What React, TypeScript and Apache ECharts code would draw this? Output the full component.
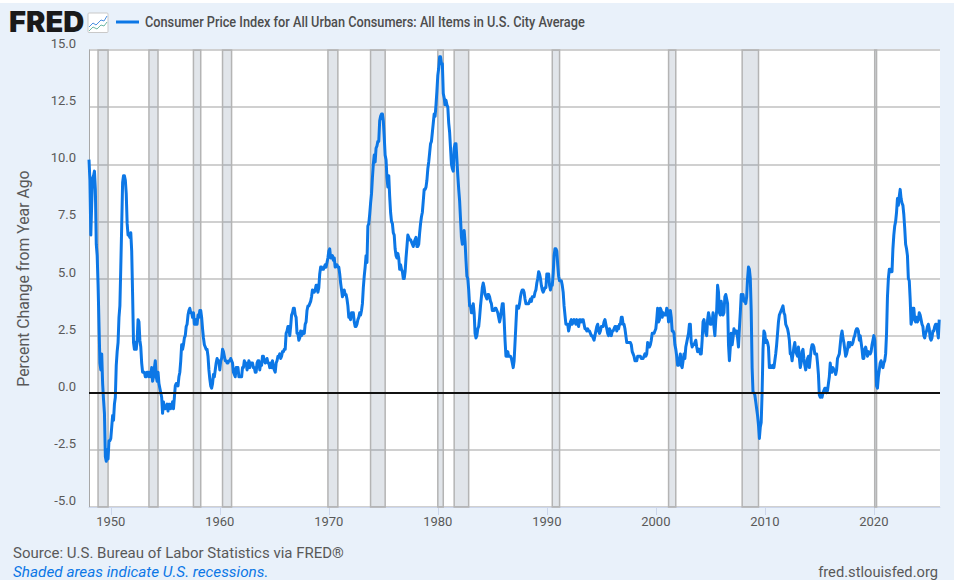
import React, { useEffect, useRef } from "react";
import * as echarts from "echarts";

const seriesName = "Consumer Price Index for All Urban Consumers: All Items in U.S. City Average";
const firstYear = 1948;

// Percent change from year ago, one value per month from January 1948.
const cpi1940s = [
  10.2, 9.3, 6.9, 8.3, 9.4, 9.5, 9.7, 8.9, 6.5, 6.0, 4.7, 3.0,
  1.3, 1.0, 1.7, 0.4, -0.3, -0.9, -2.8, -3.0, -2.5, -2.9, -2.1, -2.1,
];
const cpi1950s = [
  -2.0, -1.5, -1.0, -1.2, -0.5, -0.2, 1.2, 1.8, 2.2, 3.3, 3.8, 5.5,
  7.3, 9.2, 9.5, 9.5, 9.3, 8.7, 7.4, 6.9, 6.9, 6.8, 7.0, 6.2,
  4.3, 2.2, 1.9, 2.2, 1.9, 2.3, 3.2, 3.1, 2.3, 2.0, 1.3, 0.9,
  0.9, 0.9, 0.7, 0.7, 0.9, 0.9, 0.7, 0.9, 0.7, 1.1, 0.5, 0.7,
  1.1, 1.4, 0.7, 0.5, 0.9, 0.4, 0.2, 0.0, -0.2, -0.9, -0.4, -0.7,
  -0.7, -0.6, -0.5, -0.8, -0.5, -0.5, -0.7, -0.6, -0.4, -0.7, -0.2, 0.3,
  0.4, 0.4, 0.3, 0.7, 0.9, 1.4, 2.1, 1.9, 2.1, 2.4, 2.5, 2.9,
  3.0, 3.4, 3.6, 3.7, 3.5, 3.5, 3.3, 3.5, 3.0, 3.0, 3.2, 3.0,
  3.4, 3.3, 3.6, 3.6, 3.3, 2.8, 2.4, 2.1, 2.0, 1.9, 1.9, 1.6,
  1.0, 0.6, 0.3, 0.2, 0.4, 0.8, 0.7, 1.0, 1.3, 1.5, 1.4, 1.4,
];
const cpi1960s = [
  1.0, 1.4, 1.5, 1.9, 1.8, 1.6, 1.4, 1.4, 1.3, 1.3, 1.4, 1.4,
  1.5, 1.4, 1.3, 0.9, 0.8, 0.7, 1.1, 1.1, 1.1, 0.7, 0.7, 0.7,
  0.7, 1.1, 1.1, 1.4, 1.3, 1.3, 1.0, 1.2, 1.4, 1.1, 1.3, 1.3,
  1.3, 1.1, 1.1, 0.9, 0.9, 1.3, 1.4, 1.4, 1.0, 1.3, 1.2, 1.6,
  1.6, 1.4, 1.3, 1.4, 1.5, 1.3, 1.3, 1.1, 1.3, 1.1, 1.4, 1.1,
  1.0, 0.9, 1.3, 1.4, 1.6, 1.6, 1.7, 1.5, 1.6, 1.8, 1.8, 1.9,
  1.9, 2.6, 2.7, 2.9, 2.9, 2.5, 2.9, 3.4, 3.5, 3.7, 3.7, 3.4,
  3.3, 2.6, 2.6, 2.3, 2.4, 2.7, 2.5, 2.6, 2.7, 2.6, 3.0, 3.1,
  3.6, 3.8, 3.8, 3.9, 4.0, 4.2, 4.5, 4.4, 4.4, 4.5, 4.7, 4.7,
  4.4, 4.6, 5.2, 5.5, 5.5, 5.4, 5.4, 5.5, 5.6, 5.5, 5.7, 5.9,
];
const cpi1970s = [
  6.2, 6.3, 5.9, 5.9, 6.0, 5.8, 5.9, 5.5, 5.6, 5.6, 5.5, 5.5,
  5.2, 4.8, 4.5, 4.2, 4.3, 4.5, 4.3, 4.3, 4.1, 3.8, 3.3, 3.3,
  3.2, 3.5, 3.5, 3.5, 3.1, 2.9, 2.9, 3.0, 3.2, 3.3, 3.5, 3.4,
  3.6, 3.9, 4.6, 5.1, 5.5, 6.0, 5.7, 7.3, 7.4, 7.8, 8.3, 8.7,
  9.4, 10.0, 10.4, 10.1, 10.7, 10.8, 11.0, 11.0, 11.9, 12.1, 12.2, 12.2,
  11.9, 11.2, 10.4, 10.2, 9.4, 9.0, 9.5, 8.6, 7.9, 7.5, 7.4, 7.0,
  6.9, 6.3, 6.0, 5.9, 6.1, 5.9, 5.4, 5.6, 5.4, 5.3, 5.0, 5.0,
  5.3, 5.9, 6.4, 6.9, 6.8, 6.7, 6.7, 6.6, 6.5, 6.4, 6.6, 6.7,
  6.8, 6.4, 6.4, 6.5, 7.0, 7.4, 7.7, 7.9, 8.4, 8.9, 8.9, 9.0,
  9.3, 9.8, 10.1, 10.5, 10.9, 11.0, 11.4, 11.8, 12.2, 12.1, 12.6, 13.2,
];
const cpi1980s = [
  13.9, 14.2, 14.7, 14.7, 14.4, 14.4, 13.1, 12.9, 12.6, 12.8, 12.6, 12.5,
  11.8, 11.4, 10.7, 10.0, 9.8, 9.7, 10.7, 10.9, 10.9, 10.2, 9.5, 8.9,
  8.4, 7.6, 6.8, 6.5, 6.7, 7.1, 6.6, 5.8, 5.1, 5.0, 4.5, 3.8,
  3.8, 3.5, 3.5, 3.9, 3.5, 2.6, 2.4, 2.5, 2.8, 2.9, 3.3, 3.8,
  4.2, 4.6, 4.8, 4.6, 4.3, 4.2, 4.1, 4.3, 4.3, 4.2, 4.0, 3.9,
  3.6, 3.6, 3.6, 3.7, 3.7, 3.6, 3.5, 3.3, 3.1, 3.3, 3.6, 3.9,
  3.9, 3.2, 2.3, 1.6, 1.6, 1.8, 1.6, 1.6, 1.6, 1.5, 1.3, 1.1,
  1.4, 2.2, 3.0, 3.8, 3.7, 3.7, 3.9, 4.2, 4.4, 4.5, 4.5, 4.4,
  4.1, 3.9, 3.9, 3.9, 3.9, 4.0, 4.1, 4.0, 4.2, 4.2, 4.2, 4.4,
  4.5, 4.8, 5.0, 5.3, 5.2, 5.0, 4.7, 4.5, 4.4, 4.5, 4.6, 4.6,
];
const cpi1990s = [
  5.2, 5.2, 5.2, 4.7, 4.5, 4.7, 4.7, 5.2, 6.0, 6.3, 6.3, 6.2,
  5.6, 5.1, 4.9, 4.9, 4.9, 4.7, 4.4, 3.8, 3.4, 3.0, 3.0, 3.0,
  2.7, 2.9, 3.1, 3.2, 3.0, 3.1, 3.2, 3.1, 3.0, 3.2, 3.0, 2.9,
  3.2, 3.2, 3.1, 3.2, 3.2, 3.0, 2.8, 2.8, 2.7, 2.8, 2.7, 2.7,
  2.6, 2.5, 2.5, 2.4, 2.3, 2.5, 2.7, 2.9, 3.0, 2.7, 2.6, 2.7,
  2.9, 2.9, 2.9, 3.1, 3.2, 3.0, 2.8, 2.6, 2.5, 2.8, 2.7, 2.5,
  2.7, 2.7, 2.8, 2.9, 2.9, 2.7, 2.9, 2.8, 3.0, 3.0, 3.3, 3.3,
  3.0, 3.0, 2.8, 2.5, 2.2, 2.2, 2.2, 2.2, 2.2, 2.1, 1.8, 1.7,
  1.6, 1.4, 1.4, 1.4, 1.6, 1.6, 1.6, 1.6, 1.5, 1.5, 1.5, 1.6,
  1.7, 1.6, 1.7, 2.2, 2.1, 2.0, 2.1, 2.3, 2.6, 2.6, 2.6, 2.7,
];
const cpi2000s = [
  2.8, 3.2, 3.7, 3.1, 3.2, 3.7, 3.6, 3.3, 3.5, 3.4, 3.4, 3.4,
  3.7, 3.6, 3.1, 3.3, 3.6, 3.3, 2.7, 2.7, 2.6, 2.1, 1.9, 1.6,
  1.2, 1.2, 1.4, 1.7, 1.2, 1.1, 1.4, 1.7, 1.5, 2.0, 2.2, 2.4,
  2.6, 3.0, 3.0, 2.2, 2.0, 2.1, 2.1, 2.2, 2.3, 2.0, 1.8, 1.9,
  1.9, 1.7, 1.7, 2.3, 3.1, 3.2, 2.9, 2.6, 2.5, 3.2, 3.5, 3.3,
  3.0, 3.0, 3.1, 3.5, 2.9, 2.5, 3.2, 3.6, 4.7, 4.4, 3.5, 3.4,
  4.0, 3.7, 3.4, 3.5, 4.2, 4.3, 4.1, 3.9, 2.1, 1.4, 2.0, 2.6,
  2.1, 2.4, 2.8, 2.6, 2.7, 2.7, 2.4, 2.0, 2.8, 3.5, 4.3, 4.1,
  4.3, 4.0, 4.1, 3.9, 4.2, 5.0, 5.5, 5.4, 5.0, 3.6, 1.1, 0.0,
  0.0, -0.1, -0.4, -0.7, -1.0, -1.4, -2.0, -1.5, -1.3, 0.0, 1.9, 2.7,
];
const cpi2010s = [
  2.6, 2.2, 2.3, 2.2, 2.0, 1.1, 1.2, 1.1, 1.1, 1.2, 1.1, 1.4,
  1.7, 2.1, 2.6, 3.1, 3.4, 3.5, 3.6, 3.7, 3.8, 3.5, 3.4, 3.0,
  2.9, 2.8, 2.6, 2.3, 1.7, 1.7, 1.4, 1.7, 2.0, 2.2, 1.8, 1.7,
  1.6, 2.0, 1.5, 1.1, 1.3, 1.8, 1.9, 1.5, 1.2, 1.0, 1.2, 1.5,
  1.6, 1.1, 1.5, 1.9, 2.1, 2.1, 2.0, 1.7, 1.7, 1.7, 1.3, 0.8,
  -0.1, -0.2, -0.1, -0.2, 0.0, 0.1, 0.2, 0.2, 0.0, 0.1, 0.4, 0.7,
  1.3, 0.9, 0.9, 1.1, 1.0, 1.0, 0.8, 1.0, 1.5, 1.6, 1.7, 2.1,
  2.5, 2.7, 2.4, 2.2, 1.9, 1.6, 1.7, 1.9, 2.2, 2.0, 2.2, 2.1,
  2.1, 2.2, 2.4, 2.5, 2.7, 2.8, 2.8, 2.7, 2.3, 2.5, 2.2, 1.9,
  1.5, 1.5, 1.9, 2.0, 1.8, 1.6, 1.8, 1.7, 1.7, 1.8, 2.1, 2.3,
];
const cpi2020s = [
  2.5, 2.3, 1.5, 0.3, 0.2, 0.7, 1.0, 1.3, 1.4, 1.2, 1.1, 1.3,
  1.4, 1.7, 2.6, 4.2, 5.0, 5.4, 5.4, 5.3, 5.3, 6.3, 6.9, 7.3,
  7.5, 7.9, 8.5, 8.2, 8.6, 8.9, 8.5, 8.3, 8.2, 7.8, 7.2, 6.5,
  6.3, 6.0, 5.0, 4.9, 4.1, 3.0, 3.2, 3.7, 3.7, 3.2, 3.1, 3.3,
  3.1, 3.2, 3.5, 3.4, 3.2, 3.0, 2.9, 2.5, 2.4, 2.6, 2.7, 2.9,
  3.0, 2.8, 2.4, 2.3, 2.4, 2.7, 2.7, 2.9, 3.0, 3.0, 2.7, 2.4,
  3.2,
];

const recessionStarts = [1948.83, 1953.5, 1957.58, 1960.25, 1969.92, 1973.83, 1980.0, 1981.5, 1990.5, 2001.17, 2007.92, 2020.08];
const recessionEnds = [1949.75, 1954.33, 1958.25, 1961.08, 1970.83, 1975.17, 1980.5, 1982.83, 1991.17, 2001.83, 2009.42, 2020.25];
const yearTicks = [1950, 1960, 1970, 1980, 1990, 2000, 2010, 2020];

const allValues = [
  ...cpi1940s, ...cpi1950s, ...cpi1960s, ...cpi1970s,
  ...cpi1980s, ...cpi1990s, ...cpi2000s, ...cpi2010s, ...cpi2020s,
];

const textColor = "#595959";
const font = "Roboto";

export default function App() {
  const ref = useRef<HTMLDivElement>(null);
  useEffect(() => {
    const chart = echarts.init(ref.current!, undefined, { renderer: "svg" });
    chart.setOption({
      animation: false,
      textStyle: { fontFamily: font },
      grid: { left: 89, right: 14, top: 50, bottom: 73, containLabel: false },
      xAxis: {
        type: "value",
        min: firstYear,
        max: 2026.07,
        splitLine: { show: false },
        axisLine: { onZero: false, lineStyle: { color: "#ccd6eb", width: 1 } },
        axisTick: { show: true, customValues: yearTicks, length: 8, lineStyle: { color: "#ccd6eb" } },
        axisLabel: {
          customValues: yearTicks,
          color: textColor,
          fontSize: 13,
          fontFamily: font,
          margin: 8,
          formatter: (v: number) => String(v),
        },
      },
      yAxis: {
        type: "value",
        min: -5,
        max: 15,
        interval: 2.5,
        name: "Percent Change from Year Ago",
        nameLocation: "middle",
        nameGap: 58,
        nameTextStyle: { color: textColor, fontSize: 15.8, fontFamily: font },
        axisLine: { show: true, lineStyle: { color: "#a8a8a8", width: 1 } },
        axisTick: { show: false },
        splitLine: { lineStyle: { color: "#d0d0d0", width: 2 } },
        axisLabel: {
          color: textColor,
          fontSize: 13,
          fontFamily: font,
          margin: 13,
          verticalAlign: "bottom",
          formatter: (v: number) => v.toFixed(1),
        },
      },
      series: [
        {
          name: seriesName,
          type: "line",
          showSymbol: false,
          symbol: "none",
          data: allValues.map((v, i) => [firstYear + i / 12, v]),
          lineStyle: { color: "#0c77e6", width: 3, join: "round" },
          itemStyle: { color: "#0c77e6" },
          z: 3,
          markArea: {
            silent: true,
            itemStyle: { color: "rgba(90,110,140,0.18)", borderColor: "#b4b4b4", borderWidth: 1.5 },
            data: recessionStarts.map((s, i) => [{ xAxis: s }, { xAxis: recessionEnds[i] }]),
          },
          markLine: {
            silent: true,
            symbol: "none",
            label: { show: false },
            lineStyle: { color: "#111111", width: 2, type: "solid" },
            data: [{ yAxis: 0 }],
          },
        },
      ],
      graphic: [
        {
          type: "text",
          x: 9,
          y: 8,
          scaleX: 1.04,
          style: { text: "FRED", fontFamily: "Inter", fontWeight: 900, fontSize: 28, fill: "#1a1a1a" },
        },
        {
          type: "group",
          x: 88,
          y: 13,
          children: [
            { type: "rect", shape: { x: 0, y: 0, width: 20, height: 19.5, r: 1 }, style: { fill: "#ffffff", stroke: "#c9c9c9", lineWidth: 1 } },
            { type: "polyline", shape: { points: [[1, 14], [5, 10], [8, 12], [13, 7], [16, 8], [19, 3]] }, style: { fill: "none", stroke: "#4a90e2", lineWidth: 1 } },
            { type: "polyline", shape: { points: [[1, 18], [5, 14], [9, 16], [13, 12], [16, 13], [19, 9]] }, style: { fill: "none", stroke: "#6db8a5", lineWidth: 1 } },
          ],
        },
        { type: "line", shape: { x1: 116, y1: 22, x2: 139, y2: 22 }, style: { stroke: "#0c77e6", lineWidth: 3 } },
        {
          type: "text",
          x: 145,
          y: 22,
          scaleX: 0.91,
          originX: 0,
          style: { text: seriesName, fontFamily: font, fontWeight: 500, fontSize: 14, fill: "#4d4d4d", textVerticalAlign: "middle" },
        },
        {
          type: "text",
          x: 13,
          y: 553,
          style: { text: "Source: U.S. Bureau of Labor Statistics via FRED®", fontFamily: font, fontSize: 15, fill: textColor, textVerticalAlign: "middle" },
        },
        {
          type: "text",
          x: 13,
          y: 572,
          style: { text: "Shaded areas indicate U.S. recessions.", fontFamily: font, fontStyle: "italic", fontSize: 15.3, fill: "#0c77e6", textVerticalAlign: "middle" },
        },
        {
          type: "text",
          x: 938,
          y: 572,
          style: { text: "fred.stlouisfed.org", fontFamily: font, fontSize: 14.7, fill: textColor, textAlign: "right", textVerticalAlign: "middle" },
        },
      ],
    });
    return () => chart.dispose();
  }, []);
  return (
    <div style={{ position: "absolute", left: 0, top: 0, width: 954, height: 580, background: "#ffffff", overflow: "hidden" }}>
      <div style={{ position: "absolute", left: 0, top: 3, width: 954, height: 577, background: "#e9f1fa" }} />
      <div style={{ position: "absolute", left: 89, top: 50, width: 851, height: 457, background: "#ffffff" }} />
      <div ref={ref} style={{ position: "absolute", left: 0, top: 0, width: 954, height: 580 }} />
    </div>
  );
}
